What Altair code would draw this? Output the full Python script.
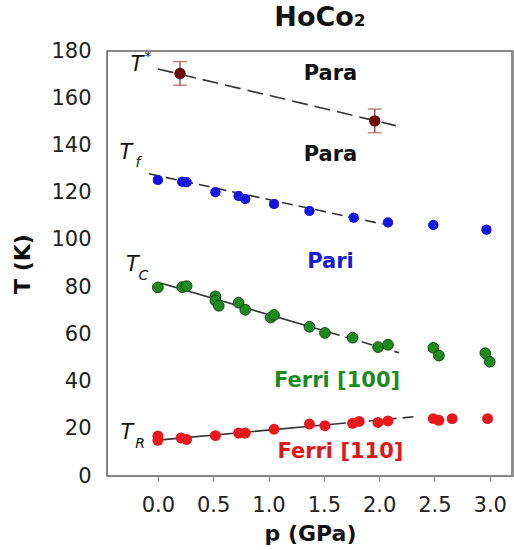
import altair as alt
import pandas as pd

# ---- data ----
star_p = [0.20, 1.96]
star_T = [170.5, 150.4]
star_err = [5.0, 5.0]

blue_p = [0.00, 0.22, 0.26, 0.52, 0.73, 0.79, 1.05, 1.37, 1.77, 2.08, 2.49, 2.97]
blue_T = [125.4, 124.6, 124.4, 120.2, 118.6, 117.3, 115.2, 112.2, 109.4, 107.4, 106.3, 104.3]

green_p = [0.00, 0.22, 0.26, 0.52, 0.52, 0.55, 0.73, 0.79, 1.02, 1.05, 1.37, 1.51, 1.76,
           1.99, 2.08, 2.49, 2.54, 2.96, 3.00]
green_T = [79.9, 80.0, 80.4, 76.1, 74.3, 72.1, 73.4, 70.4, 67.1, 68.2, 63.2, 60.6, 58.6,
           54.6, 55.6, 54.3, 51.0, 52.0, 48.4]

red_p = [0.00, 0.00, 0.21, 0.26, 0.52, 0.73, 0.79, 1.05, 1.37, 1.51, 1.76, 1.82, 1.99,
         2.08, 2.49, 2.54, 2.66, 2.98]
red_T = [16.9, 15.1, 16.1, 15.5, 17.1, 18.2, 18.2, 19.8, 22.0, 21.3, 22.3, 23.1, 22.7,
         23.3, 24.3, 23.6, 24.3, 24.3]

# fit lines (end points)
star_line_p = [0.00, 2.15]
star_line_T = [172.4, 148.4]
blue_line_p = [-0.08, 2.03]
blue_line_T = [128.0, 106.7]
green_solid_p = [0.03, 1.40]
green_solid_T = [81.6, 62.9]
green_dash_p = [1.40, 2.18]
green_dash_T = [62.9, 52.2]
red_solid_p = [0.00, 1.60]
red_solid_T = [15.2, 22.0]
red_dash_p = [1.60, 2.32]
red_dash_T = [22.0, 25.1]

# annotations
phase_text = ["Para", "Para", "Pari", "Ferri [100]", "Ferri [110]"]
phase_p = [1.56, 1.56, 1.56, 1.62, 1.65]
phase_T = [170.3, 136.0, 90.6, 40.2, 10.2]
phase_col = ["#111111", "#111111", "#1a1ad6", "#1f8a1f", "#e0161c"]

sym_text = ["T", "T", "T", "T"]
sym_p = [-0.19, -0.29, -0.23, -0.28]
sym_T = [174.1, 136.8, 89.3, 18.2]
sub_text = ["*", "f", "C", "R"]
sub_p = [-0.09, -0.18, -0.13, -0.16]
sub_T = [177.5, 132.4, 84.8, 13.6]

# plot frame edges (axis limits)
frame_T = [0, 180]
frame_p = [-0.46, 3.20]

y_ticks = [0, 20, 40, 60, 80, 100, 120, 140, 160, 180]
x_ticks = [0.0, 0.5, 1.0, 1.5, 2.0, 2.5, 3.0]

FONT = "DejaVu Sans"
FRAME = "gray"

xs = alt.Scale(domain=[-0.46, 3.21], nice=False, zero=False)
ys = alt.Scale(domain=[0, 180], nice=False)

X = alt.X("p:Q", scale=xs,
          axis=alt.Axis(values=x_ticks, format=".1f", title="p (GPa)", grid=False,
                        domain=True, domainColor=FRAME, ticks=True, tickColor=FRAME,
                        tickSize=5, labelPadding=13, labelFontSize=21, labelColor="#222222",
                        labelFont=FONT, titleFont=FONT, titleFontSize=22, titleFontWeight="bold",
                        titleColor="#111111", titlePadding=8, zindex=1))
Y = alt.Y("T:Q", scale=ys,
          axis=alt.Axis(values=y_ticks, title="T (K)", grid=False, domain=True, domainColor=FRAME,
                        ticks=False,
                        labelPadding=16, labelFontSize=21, labelColor="#222222",
                        labelFont=FONT, titleFont=FONT, titleFontSize=22, titleFontWeight="bold",
                        titleColor="#111111", titlePadding=16, zindex=1))


def line_layer(ps, ts, dash, color="#333333"):
    df = pd.DataFrame({"p": ps, "T": ts})
    kw = dict(color=color, strokeWidth=1.6)
    if dash:
        kw["strokeDash"] = dash
    return alt.Chart(df).mark_line(**kw).encode(x=alt.X("p:Q", scale=xs), y=alt.Y("T:Q", scale=ys))


def enc():
    return dict(x=alt.X("p:Q", scale=xs), y=alt.Y("T:Q", scale=ys))


star_df = pd.DataFrame({"p": star_p, "T": star_T,
                        "lo": [t - e for t, e in zip(star_T, star_err)],
                        "hi": [t + e for t, e in zip(star_T, star_err)]})

base_pts = alt.Chart(pd.DataFrame({"p": blue_p, "T": blue_T})).mark_circle(
    size=100, color="#1515e0", opacity=1).encode(x=X, y=Y)

frame_h = alt.Chart(pd.DataFrame({"T": frame_T})).mark_rule(color=FRAME, strokeWidth=1.5).encode(
    y=alt.Y("T:Q", scale=ys))
frame_v = alt.Chart(pd.DataFrame({"p": frame_p})).mark_rule(color=FRAME, strokeWidth=1.5).encode(
    x=alt.X("p:Q", scale=xs))

layers = [
    base_pts,
    line_layer(star_line_p, star_line_T, [16, 7]),
    line_layer(blue_line_p, blue_line_T, [11, 6]),
    line_layer(green_solid_p, green_solid_T, None),
    line_layer(green_dash_p, green_dash_T, [11, 6]),
    line_layer(red_solid_p, red_solid_T, None),
    line_layer(red_dash_p, red_dash_T, [11, 6]),
    alt.Chart(star_df).mark_rule(color="#a0524d", strokeWidth=1.5).encode(
        x=alt.X("p:Q", scale=xs), y=alt.Y("lo:Q", scale=ys), y2="hi:Q"),
    alt.Chart(star_df).mark_tick(color="#a0524d", orient="horizontal", size=14, thickness=1.5).encode(
        x=alt.X("p:Q", scale=xs), y=alt.Y("lo:Q", scale=ys)),
    alt.Chart(star_df).mark_tick(color="#a0524d", orient="horizontal", size=14, thickness=1.5).encode(
        x=alt.X("p:Q", scale=xs), y=alt.Y("hi:Q", scale=ys)),
    alt.Chart(star_df).mark_circle(size=130, color="#6e0b0b", opacity=1).encode(**enc()),
    alt.Chart(pd.DataFrame({"p": blue_p, "T": blue_T})).mark_circle(
        size=100, color="#1515e0", opacity=1).encode(**enc()),
    alt.Chart(pd.DataFrame({"p": green_p, "T": green_T})).mark_point(
        shape="circle", size=115, filled=True, fill="#1f8a1f", stroke="#0d4a0d", strokeWidth=1,
        opacity=1).encode(**enc()),
    alt.Chart(pd.DataFrame({"p": red_p, "T": red_T})).mark_circle(
        size=120, color="#e8181e", opacity=1).encode(**enc()),
    alt.Chart(pd.DataFrame({"p": phase_p, "T": phase_T, "txt": phase_text, "col": phase_col})).mark_text(
        font=FONT, fontSize=21, fontWeight="bold", align="center", baseline="middle").encode(
        text="txt:N", color=alt.Color("col:N", scale=None), **enc()),
    alt.Chart(pd.DataFrame({"p": sym_p, "T": sym_T, "txt": sym_text})).mark_text(
        font=FONT, fontSize=21, fontStyle="italic", align="center", baseline="middle", color="#111111").encode(
        text="txt:N", **enc()),
    alt.Chart(pd.DataFrame({"p": sub_p, "T": sub_T, "txt": sub_text})).mark_text(
        font=FONT, fontSize=14, fontStyle="italic", align="center", baseline="middle", color="#111111").encode(
        text="txt:N", **enc()),
    frame_h,
    frame_v,
]

chart = alt.layer(*layers).properties(
    width=406, height=425,
    title=alt.TitleParams("HoCo₂", font=FONT, fontSize=27, fontWeight="bold", color="#111111",
                          anchor="middle", dx=10, offset=8),
    autosize=alt.AutoSizeParams(type="none"),
    padding={"left": 107, "top": 51, "right": 1, "bottom": 74},
).configure_view(stroke="gray", strokeWidth=1.5)

chart.save("out.html", embed_options={"renderer": "svg", "actions": False})
